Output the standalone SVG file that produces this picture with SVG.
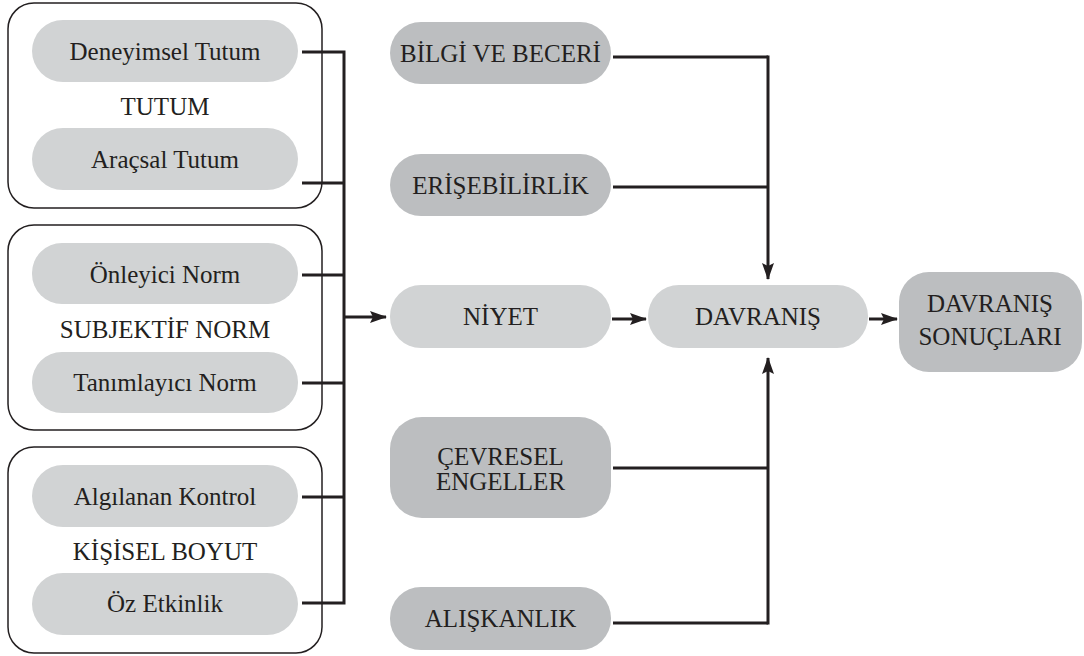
<svg xmlns="http://www.w3.org/2000/svg" width="1084" height="656" viewBox="0 0 1084 656">
<style>
text{font-size:25px;fill:#231f20;text-anchor:middle}
.grp{fill:#fff;stroke:#231f20;stroke-width:1.5}
.lt{fill:#d1d3d4}
.dk{fill:#bcbec0}
.ln{fill:none;stroke:#231f20;stroke-width:3}
</style>
<defs>
<marker id="ah" viewBox="0 0 17 12" refX="16" refY="6" markerWidth="17" markerHeight="12" markerUnits="userSpaceOnUse" orient="auto">
<path d="M0,0 L17,6 L0,12 L3,6 Z" fill="#231f20"/>
</marker>
</defs>
<g font-family="Liberation Serif, Times New Roman, serif">
<g id="tutum">
<rect class="grp" x="8" y="3" width="314" height="205" rx="26"/>
<rect class="lt" x="32" y="20" width="266" height="62" rx="31"/>
<text x="165" y="60">Deneyimsel Tutum</text>
<text x="165" y="115">TUTUM</text>
<rect class="lt" x="32" y="128" width="266" height="62" rx="31"/>
<text x="165" y="168">Araçsal Tutum</text>
</g>
<g id="subjektif">
<rect class="grp" x="8" y="225" width="314" height="205" rx="26"/>
<rect class="lt" x="32" y="243" width="266" height="61" rx="30"/>
<text x="165" y="283">Önleyici Norm</text>
<text x="165" y="338">SUBJEKTİF NORM</text>
<rect class="lt" x="32" y="352" width="266" height="61" rx="30"/>
<text x="165" y="391">Tanımlayıcı Norm</text>
</g>
<g id="kisisel">
<rect class="grp" x="8" y="447" width="314" height="206" rx="26"/>
<rect class="lt" x="32" y="465" width="266" height="62" rx="31"/>
<text x="165" y="505">Algılanan Kontrol</text>
<text x="165" y="560">KİŞİSEL BOYUT</text>
<rect class="lt" x="32" y="573" width="266" height="62" rx="31"/>
<text x="165" y="612">Öz Etkinlik</text>
</g>
<g id="bilgi">
<rect class="dk" x="390" y="22" width="221" height="62" rx="31"/>
<text x="500.5" y="62">BİLGİ VE BECERİ</text>
</g>
<g id="erisebilirlik">
<rect class="dk" x="390" y="154" width="221" height="62" rx="31"/>
<text x="500.5" y="194">ERİŞEBİLİRLİK</text>
</g>
<g id="niyet">
<rect class="lt" x="390" y="285" width="221" height="63" rx="31"/>
<text x="500.5" y="325">NİYET</text>
</g>
<g id="cevresel">
<rect class="dk" x="390" y="417" width="221" height="101" rx="32"/>
<text x="500.5" y="465">ÇEVRESEL</text>
<text x="500.5" y="490">ENGELLER</text>
</g>
<g id="aliskanlik">
<rect class="dk" x="390" y="587" width="221" height="63" rx="31"/>
<text x="500.5" y="627">ALIŞKANLIK</text>
</g>
<g id="davranis">
<rect class="lt" x="648" y="285" width="220" height="63" rx="31"/>
<text x="758" y="325">DAVRANIŞ</text>
</g>
<g id="sonuclari">
<rect class="dk" x="899" y="272" width="183" height="100" rx="30"/>
<text x="990" y="312">DAVRANIŞ</text>
<text x="990" y="345">SONUÇLARI</text>
</g>
</g>
<g id="connectors">
<path class="ln" d="M302,52 H344 M302,183 H344 M302,275 H344 M302,383 H344 M302,497 H344 M302,603 H344 M344,50.5 V604.5"/>
<path class="ln" d="M344,317 H386" marker-end="url(#ah)"/>
<path class="ln" d="M613,57 H768 M613,187 H768"/>
<path class="ln" d="M768,55.5 V279" marker-end="url(#ah)"/>
<path class="ln" d="M613,468 H768 M613,623 H768"/>
<path class="ln" d="M768,624.5 V358" marker-end="url(#ah)"/>
<path class="ln" d="M612,319 H646" marker-end="url(#ah)"/>
<path class="ln" d="M869,319 H897" marker-end="url(#ah)"/>
</g>
</svg>
